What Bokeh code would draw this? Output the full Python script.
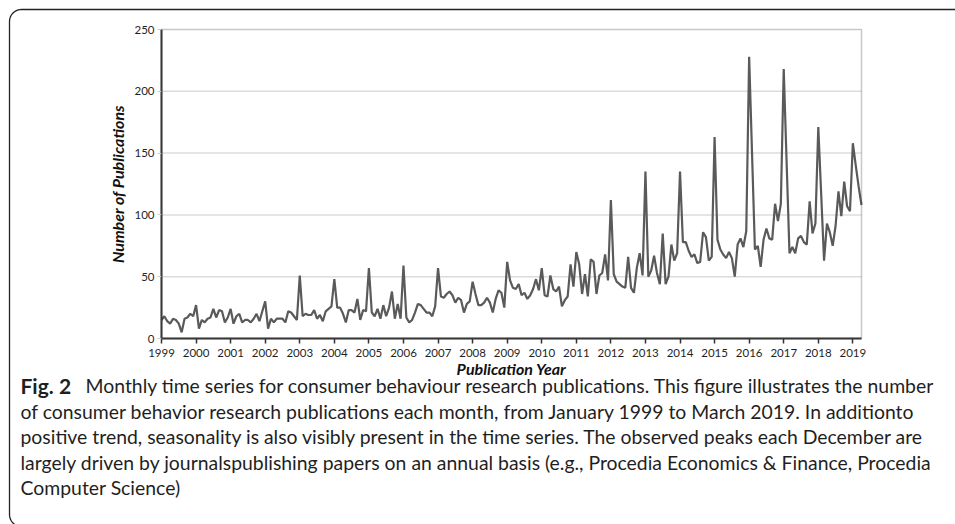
import math
from bokeh.plotting import figure
from bokeh.models import (Range1d, FixedTicker, Label, BoxAnnotation, ColumnDataSource, LinearAxis)
from bokeh.embed import file_html
from bokeh.resources import INLINE

# ---------------- data (monthly publication counts) -------------
counts_1999_2003 = [15, 18, 14, 12, 16, 15, 12, 5, 16, 17, 20, 18, 27,
                    8, 15, 13, 16, 17, 24, 17, 23, 22, 13, 17, 24,
                    12, 18, 20, 13, 15, 15, 13, 16, 20, 14, 22, 30,
                    8, 16, 13, 16, 16, 16, 13, 22, 21, 18, 15, 51,
                    18, 20, 19, 19, 23, 16, 19, 14, 22, 24, 26, 48]
counts_2004_2008 = [25, 25, 20, 13, 23, 23, 21, 32, 15, 23, 22, 57,
                    21, 18, 24, 16, 27, 18, 25, 38, 16, 28, 16, 59,
                    17, 13, 15, 21, 28, 27, 24, 21, 21, 18, 26, 57,
                    34, 33, 36, 38, 35, 29, 33, 31, 21, 28, 30, 46,
                    36, 27, 27, 29, 33, 29, 21, 32, 39, 37, 25, 62]
counts_2009_2013 = [47, 41, 40, 44, 35, 37, 32, 35, 40, 48, 39, 57,
                    35, 34, 51, 40, 38, 42, 26, 31, 34, 60, 42, 70,
                    60, 36, 52, 34, 64, 62, 36, 51, 53, 68, 47, 112,
                    52, 46, 44, 42, 41, 66, 41, 37, 57, 69, 51, 135,
                    50, 55, 67, 53, 44, 85, 44, 50, 76, 63, 69, 135]
counts_2014_2019 = [78, 78, 71, 66, 68, 61, 62, 86, 82, 63, 66, 163,
                    80, 72, 68, 65, 70, 65, 50, 76, 81, 74, 87, 228,
                    150, 72, 75, 58, 80, 89, 81, 80, 109, 95, 109, 218,
                    143, 69, 74, 69, 81, 83, 78, 76, 111, 85, 93, 171,
                    117, 63, 93, 86, 75, 91, 119, 99, 127, 107, 103, 158,
                    140, 123, 108]

year_labels = [str(y) for y in range(1999, 2020)]
y_ticks = [0, 50, 100, 150, 200, 250]

caption_lines = [
    "Monthly time series for consumer behaviour research publications. This figure illustrates the number",
    "of consumer behavior research publications each month, from January 1999 to March 2019. In additionto",
    "positive trend, seasonality is also visibly present in the time series. The observed peaks each December are",
    "largely driven by journalspublishing papers on an annual basis (e.g., Procedia Economics & Finance, Procedia",
    "Computer Science)",
]

counts = counts_1999_2003 + counts_2004_2008 + counts_2009_2013 + counts_2014_2019
months = list(range(len(counts)))
src = ColumnDataSource(dict(month=months, count=counts))

# ---------------- layout constants (pixels) ----------------
W, H = 955, 524
PL, PR, PT, PB = 161, 861, 29, 338      # plot box in canvas pixels
x_last = len(counts) - 1
y_top = y_ticks[-1]
xs = (PR - PL) / x_last                  # px per month
ys = (PB - PT) / y_top                   # px per publication


def to_data(px, py):
    return (px - PL) / xs, (PB - py) / ys


FONT = "Lato"
TXT = "#1f1f1f"

p = figure(width=W, height=H, output_backend="svg", toolbar_location=None,
           x_range=Range1d(-PL / xs, x_last + (W - PR) / xs),
           y_range=Range1d(-(H - PB) / ys, y_top + PT / ys),
           min_border=0, x_axis_location=None, y_axis_location=None)
p.background_fill_color = "white"
p.border_fill_color = "white"
p.outline_line_color = None
p.xgrid.visible = False
p.ygrid.visible = False

# horizontal grid lines inside the plot box
grid_y = y_ticks[1:-1]
p.segment(x0=[0] * len(grid_y), x1=[x_last] * len(grid_y), y0=grid_y, y1=grid_y,
          line_color="#dcdcdc", line_width=1.5)

# plot box
p.add_layout(BoxAnnotation(left=0, right=x_last, bottom=0, top=y_top,
                           fill_alpha=0, line_color="#4a4a4a", line_width=1.5))

p.line("month", "count", source=src, line_color="#5a5a5a", line_width=2.2)

# x axis
xaxis = LinearAxis(fixed_location=0, bounds=(0, x_last))
xaxis.ticker = FixedTicker(ticks=[12 * i for i in range(len(year_labels))])
xaxis.major_label_overrides = {12 * i: lab for i, lab in enumerate(year_labels)}
xaxis.minor_tick_line_color = None
xaxis.major_tick_in = 0
xaxis.major_tick_out = 5
xaxis.major_tick_line_color = "#333333"
xaxis.major_tick_line_width = 1.5
xaxis.axis_line_color = "#333333"
xaxis.axis_line_width = 2
xaxis.major_label_text_font = FONT
xaxis.major_label_text_font_size = "11.5px"
xaxis.major_label_text_color = TXT
xaxis.major_label_standoff = 5
xaxis.axis_label = "Publication Year"
xaxis.axis_label_text_font = FONT
xaxis.axis_label_text_font_style = "bold italic"
xaxis.axis_label_text_font_size = "16px"
xaxis.axis_label_text_color = "#111111"
xaxis.axis_label_standoff = -1
p.add_layout(xaxis, "below")

# y axis
yaxis = LinearAxis(fixed_location=0, bounds=(0, y_top))
yaxis.ticker = FixedTicker(ticks=y_ticks)
yaxis.minor_tick_line_color = None
yaxis.major_tick_in = 0
yaxis.major_tick_out = 4
yaxis.major_tick_line_color = "#cccccc"
yaxis.axis_line_color = "#333333"
yaxis.axis_line_width = 2
yaxis.major_label_text_font = FONT
yaxis.major_label_text_font_size = "11.5px"
yaxis.major_label_text_color = TXT
yaxis.major_label_standoff = 3
yaxis.axis_label = "Number of Publications"
yaxis.axis_label_text_font = FONT
yaxis.axis_label_text_font_style = "bold italic"
yaxis.axis_label_text_font_size = "16px"
yaxis.axis_label_text_color = "#111111"
yaxis.axis_label_standoff = 4
p.add_layout(yaxis, "left")

# panel border: top and left edges with rounded corners (right / bottom lie outside the picture)
R = 12
BL, BT, BB, BR = 9, 9, 526, W + 20
bx, by = [], []
n = 12
for k in range(n + 1):                      # bottom-left corner (partly visible)
    a = math.pi / 2 * k / n
    bx.append(BL + R - R * math.cos(a)); by.append(BB - R + R * math.sin(a))
bx.reverse(); by.reverse()
for k in range(n + 1):                      # top-left corner
    a = math.pi / 2 * k / n
    bx.append(BL + R - R * math.cos(a)); by.append(BT + R - R * math.sin(a))
bx.append(BR); by.append(BT)
dx, dy = zip(*[to_data(u, v) for u, v in zip(bx, by)])
p.line(list(dx), list(dy), line_color="#222222", line_width=1.3)

# caption
cap_y = [385, 410.5, 436, 461.5, 487]  # centres, from canvas top
CAP_SIZE = "19.4px"
p.add_layout(Label(x=20, y=cap_y[0], x_units="canvas", y_units="canvas",
                   text="Fig. 2", text_font=FONT, text_font_style="bold",
                   text_font_size="21px", text_color=TXT,
                   text_baseline="middle", text_align="left"))
p.add_layout(Label(x=85, y=cap_y[0], x_units="canvas", y_units="canvas",
                   text=caption_lines[0], text_font=FONT,
                   text_font_size=CAP_SIZE, text_color=TXT,
                   text_baseline="middle", text_align="left"))
for line, yy in zip(caption_lines[1:], cap_y[1:]):
    p.add_layout(Label(x=20, y=yy, x_units="canvas", y_units="canvas",
                       text=line, text_font=FONT,
                       text_font_size=CAP_SIZE, text_color=TXT,
                       text_baseline="middle", text_align="left"))

open("out.html", "w").write(file_html(p, INLINE))
